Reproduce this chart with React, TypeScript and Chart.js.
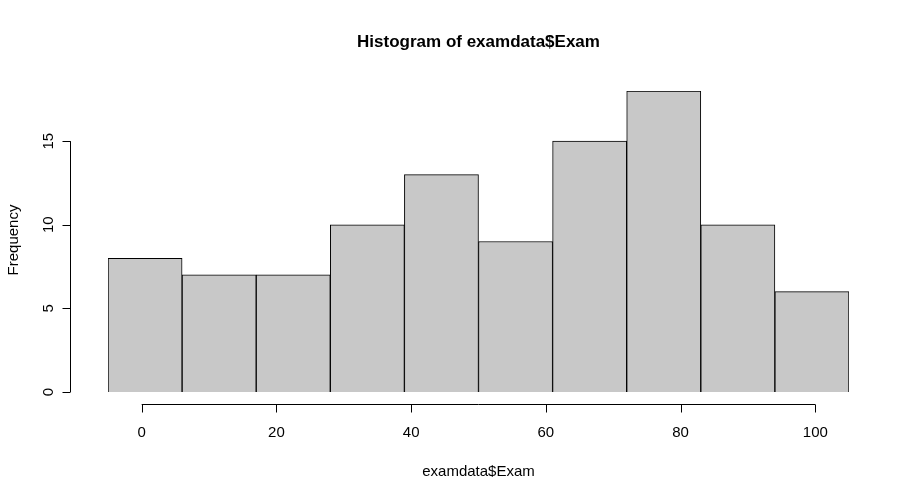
import { useEffect, useRef } from "react"
import { Chart, registerables } from "chart.js"

Chart.register(...registerables)

const binLabels = ["0-10", "10-20", "20-30", "30-40", "40-50", "50-60", "60-70", "70-80", "80-90", "90-100"]
const counts = [8, 7, 7, 10, 13, 9, 15, 18, 10, 6]
const xTicks = [0, 20, 40, 60, 80, 100]
const yTicks = [0, 5, 10, 15]

const FONT = "'Liberation Sans', Arial, Helvetica, sans-serif"

// R-style detached axes, drawn from the chart's own scales
const rAxes = {
  id: "rAxes",
  afterDraw(chart: Chart) {
    const ctx = chart.ctx
    const xs = chart.scales.xv
    const ys = chart.scales.y
    const area = chart.chartArea
    ctx.save()
    ctx.strokeStyle = "#000"
    ctx.fillStyle = "#000"
    ctx.lineWidth = 1
    ctx.font = `15px ${FONT}`

    // x axis
    const ax = Math.round(area.bottom) + 12.5
    ctx.beginPath()
    ctx.moveTo(xs.getPixelForValue(xTicks[0]), ax)
    ctx.lineTo(xs.getPixelForValue(xTicks[xTicks.length - 1]), ax)
    xTicks.forEach((t) => {
      const px = Math.round(xs.getPixelForValue(t)) + 0.5
      ctx.moveTo(px, ax)
      ctx.lineTo(px, ax + 8)
    })
    ctx.stroke()
    ctx.textAlign = "center"
    ctx.textBaseline = "middle"
    xTicks.forEach((t) => ctx.fillText(String(t), xs.getPixelForValue(t), ax + 28))

    // y axis
    const ay = Math.round(area.left) - 38 + 0.5
    ctx.beginPath()
    ctx.moveTo(ay, ys.getPixelForValue(yTicks[0]))
    ctx.lineTo(ay, ys.getPixelForValue(yTicks[yTicks.length - 1]))
    yTicks.forEach((t) => {
      const py = Math.round(ys.getPixelForValue(t)) + 0.5
      ctx.moveTo(ay, py)
      ctx.lineTo(ay - 8, py)
    })
    ctx.stroke()
    yTicks.forEach((t) => {
      ctx.save()
      ctx.translate(ay - 22, ys.getPixelForValue(t))
      ctx.rotate(-Math.PI / 2)
      ctx.fillText(String(t), 0, 0)
      ctx.restore()
    })

    // axis titles
    const cx = (area.left + area.right) / 2
    ctx.fillText("examdata$Exam", cx, 472)
    ctx.save()
    ctx.translate(14, 240)
    ctx.rotate(-Math.PI / 2)
    ctx.fillText("Frequency", 0, 0)
    ctx.restore()

    ctx.font = `bold 17px ${FONT}`
    ctx.fillText("Histogram of examdata$Exam", cx, 42)
    ctx.restore()
  },
}

export default function App() {
  const canvasRef = useRef<HTMLCanvasElement>(null)

  useEffect(() => {
    if (!canvasRef.current) return
    const chart = new Chart(canvasRef.current, {
      type: "bar",
      data: {
        labels: binLabels,
        datasets: [
          {
            data: counts,
            backgroundColor: "#c8c8c8",
            borderColor: "#000",
            borderWidth: 1,
            barPercentage: 1,
            categoryPercentage: 1,
          },
        ],
      },
      options: {
        animation: false,
        responsive: false,
        layout: { padding: { left: 108, right: 70, top: 91, bottom: 111 } },
        plugins: { legend: { display: false }, tooltip: { enabled: false } },
        scales: {
          x: { display: false },
          xv: { type: "linear", position: "bottom", min: 0, max: 100, display: false },
          y: { min: 0, max: 18, display: false },
        },
      },
      plugins: [rAxes],
    })
    return () => chart.destroy()
  }, [])

  return (
    <div style={{ position: "fixed", left: 0, top: 0, width: 919, height: 503, background: "#fff" }}>
      <canvas ref={canvasRef} width={919} height={503} style={{ width: 919, height: 503 }} />
    </div>
  )
}
